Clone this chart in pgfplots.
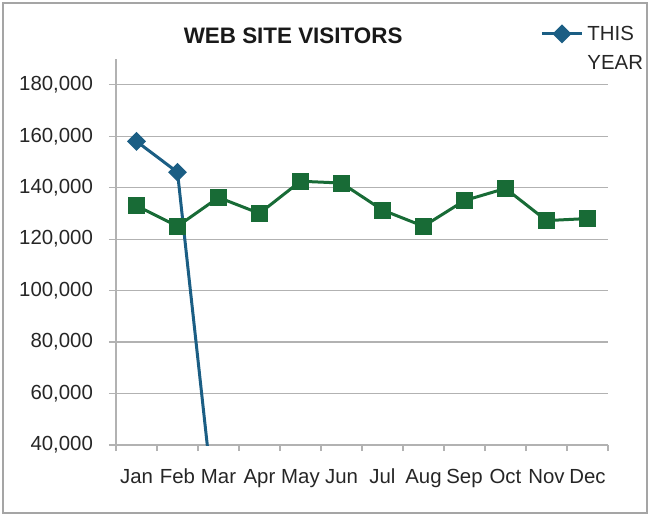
\documentclass[border=0pt]{standalone}
\usepackage{pgfplots}
\pgfplotsset{compat=1.18}
\usepackage{pgfplotstable}
\usepackage{fontspec}
\setmainfont{Liberation Sans}
\definecolor{tyblue}{RGB}{27,94,132}
\definecolor{lygreen}{RGB}{24,107,54}
\definecolor{gridgray}{RGB}{178,178,178}
\definecolor{framegray}{RGB}{165,165,165}

\pgfplotstableread{
idx visitors
0 133000
1 125000
2 136200
3 130000
4 142500
5 141800
6 131300
7 125000
8 135000
9 139700
10 127200
11 128000
}\lastyear

\pgfplotstableread{
idx visitors
0 158000
1 146000
2 0
}\thisyear

\begin{document}
\begin{tikzpicture}
\useasboundingbox (-58pt,-35.5pt) rectangle (267pt,222.5pt);
\draw[framegray, line width=1pt] (-56.5pt,-34pt) rectangle (265.5pt,221pt);
\begin{axis}[
  at={(0pt,0pt)}, anchor=south west,
  scale only axis, width=246pt, height=193pt,
  xmin=-0.5, xmax=11.5, ymin=40000, ymax=190000,
  axis lines*=left,
  axis line style={draw=gridgray, line width=0.6pt, -},
  xtick={0,...,11},
  xticklabels={Jan,Feb,Mar,Apr,May,Jun,Jul,Aug,Sep,Oct,Nov,Dec},
  minor xtick={-0.5,0.5,...,11.5},
  major x tick style={draw=none},
  minor x tick style={draw=gridgray, line width=0.6pt},
  minor tick length=3pt,
  tick align=outside,
  ytick={40000,60000,...,180000},
  major tick length=3.5pt,
  y tick style={draw=gridgray, line width=0.6pt},
  ymajorgrids,
  major grid style={draw=gridgray, line width=0.6pt},
  scaled y ticks=false,
  y tick label style={/pgf/number format/fixed, /pgf/number format/1000 sep={,}},
  /pgf/number format/assume math mode=true,
  tick label style={font=\fontsize{10.2}{12}\selectfont, text=black!85},
  xticklabel style={yshift=-5pt},
  yticklabel style={xshift=-4.5pt},
  title={WEB SITE VISITORS},
  title style={font=\fontsize{11.2}{13}\selectfont\bfseries, text=black!90, at={(0.36,1.028)}, anchor=center},
  legend style={at={(0.862,1.102)}, anchor=north west, draw=none, fill=none,
    font=\fontsize{10.2}{12}\selectfont, text=black!85, cells={anchor=west},
    inner sep=0pt},
  legend image code/.code={\draw[#1, mark indices={2}] plot coordinates {(0pt,0pt) (10pt,0pt) (20pt,0pt)};},
]
\addplot[lygreen, line width=1.5pt, mark=square*, mark size=3.5pt, forget plot]
  table[x=idx, y=visitors] {\lastyear};
\addplot[tyblue, line width=1.5pt, mark=square*, mark size=2.6pt,
  mark options={rotate=45}, mark indices={1,2}]
  table[x=idx, y=visitors] {\thisyear};
\addlegendentry{\begin{tabular}[t]{@{}l@{}}THIS\\[2.5pt]YEAR\end{tabular}}
\end{axis}
\end{tikzpicture}
\end{document}
